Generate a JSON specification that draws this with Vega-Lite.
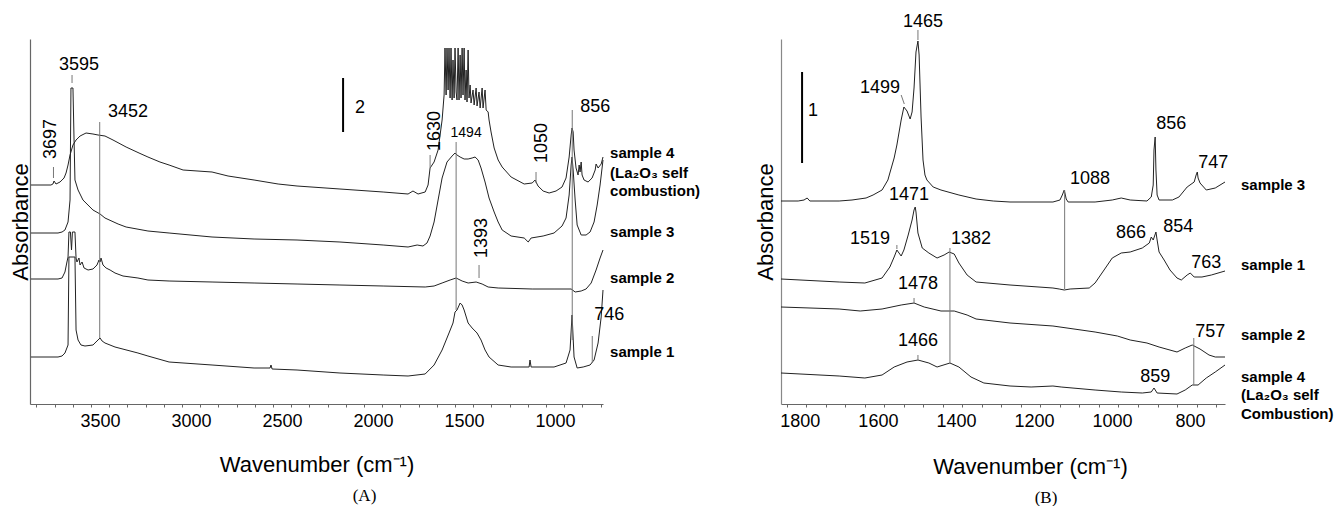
{
"$schema": "https://vega.github.io/schema/vega-lite/v6.json",
"padding": {"left": 9, "top": 13, "right": 0, "bottom": 0},
"bounds": "flush",
"spacing": 178,
"background": "white",
"config": {"view": {"stroke": null}, "axis": {"labelFont": "Liberation Sans", "titleFont": "Liberation Sans", "grid": false, "labelColor": "#000", "titleColor": "#000"}},
"datasets": {
"a_spec": [
{"s":"s4","wn":3830,"h":219},{"s":"s4","wn":3720,"h":219},{"s":"s4","wn":3709,"h":220},{"s":"s4","wn":3703,"h":223},{"s":"s4","wn":3692,"h":220},{"s":"s4","wn":3670,"h":222},{"s":"s4","wn":3648,"h":226},{"s":"s4","wn":3637,"h":231},{"s":"s4","wn":3626,"h":239},{"s":"s4","wn":3615,"h":249},{"s":"s4","wn":3599,"h":259},{"s":"s4","wn":3582,"h":264},{"s":"s4","wn":3560,"h":268},{"s":"s4","wn":3527,"h":271},{"s":"s4","wn":3489,"h":270},{"s":"s4","wn":3461,"h":269},{"s":"s4","wn":3423,"h":268},{"s":"s4","wn":3379,"h":264},{"s":"s4","wn":3307,"h":257},{"s":"s4","wn":3236,"h":251},{"s":"s4","wn":3187,"h":247},{"s":"s4","wn":3121,"h":242},{"s":"s4","wn":3071,"h":239},{"s":"s4","wn":2994,"h":234},{"s":"s4","wn":2835,"h":232},{"s":"s4","wn":2747,"h":228},{"s":"s4","wn":2604,"h":224},{"s":"s4","wn":2472,"h":220},{"s":"s4","wn":2368,"h":218},{"s":"s4","wn":2132,"h":215},{"s":"s4","wn":1895,"h":212},{"s":"s4","wn":1758,"h":210},{"s":"s4","wn":1731,"h":213},{"s":"s4","wn":1703,"h":210},{"s":"s4","wn":1664,"h":212},{"s":"s4","wn":1648,"h":219},{"s":"s4","wn":1637,"h":236},{"s":"s4","wn":1615,"h":242},{"s":"s4","wn":1593,"h":254},{"s":"s4","wn":1571,"h":284},{"s":"s4","wn":1560,"h":309},{"s":"s4","wn":1555,"h":356},{"s":"s4","wn":1549,"h":309},{"s":"s4","wn":1544,"h":356},{"s":"s4","wn":1538,"h":314},{"s":"s4","wn":1533,"h":356},{"s":"s4","wn":1527,"h":306},{"s":"s4","wn":1522,"h":356},{"s":"s4","wn":1516,"h":304},{"s":"s4","wn":1511,"h":344},{"s":"s4","wn":1505,"h":306},{"s":"s4","wn":1500,"h":356},{"s":"s4","wn":1494,"h":312},{"s":"s4","wn":1489,"h":304},{"s":"s4","wn":1483,"h":356},{"s":"s4","wn":1478,"h":304},{"s":"s4","wn":1472,"h":349},{"s":"s4","wn":1467,"h":306},{"s":"s4","wn":1461,"h":356},{"s":"s4","wn":1456,"h":309},{"s":"s4","wn":1450,"h":356},{"s":"s4","wn":1445,"h":304},{"s":"s4","wn":1439,"h":334},{"s":"s4","wn":1434,"h":302},{"s":"s4","wn":1428,"h":354},{"s":"s4","wn":1423,"h":306},{"s":"s4","wn":1417,"h":319},{"s":"s4","wn":1412,"h":301},{"s":"s4","wn":1401,"h":314},{"s":"s4","wn":1395,"h":299},{"s":"s4","wn":1384,"h":316},{"s":"s4","wn":1379,"h":298},{"s":"s4","wn":1368,"h":312},{"s":"s4","wn":1362,"h":296},{"s":"s4","wn":1351,"h":316},{"s":"s4","wn":1346,"h":296},{"s":"s4","wn":1335,"h":314},{"s":"s4","wn":1329,"h":294},{"s":"s4","wn":1318,"h":292},{"s":"s4","wn":1313,"h":284},{"s":"s4","wn":1302,"h":272},{"s":"s4","wn":1285,"h":256},{"s":"s4","wn":1263,"h":244},{"s":"s4","wn":1241,"h":237},{"s":"s4","wn":1192,"h":227},{"s":"s4","wn":1120,"h":220},{"s":"s4","wn":1076,"h":221},{"s":"s4","wn":1060,"h":224},{"s":"s4","wn":1044,"h":218},{"s":"s4","wn":1016,"h":213},{"s":"s4","wn":983,"h":211},{"s":"s4","wn":945,"h":213},{"s":"s4","wn":912,"h":217},{"s":"s4","wn":890,"h":226},{"s":"s4","wn":873,"h":247},{"s":"s4","wn":862,"h":269},{"s":"s4","wn":857,"h":276},{"s":"s4","wn":851,"h":272},{"s":"s4","wn":846,"h":254},{"s":"s4","wn":835,"h":236},{"s":"s4","wn":824,"h":229},{"s":"s4","wn":818,"h":239},{"s":"s4","wn":813,"h":232},{"s":"s4","wn":807,"h":242},{"s":"s4","wn":802,"h":229},{"s":"s4","wn":791,"h":224},{"s":"s4","wn":769,"h":222},{"s":"s4","wn":747,"h":226},{"s":"s4","wn":730,"h":234},{"s":"s4","wn":725,"h":240},{"s":"s4","wn":714,"h":236},{"s":"s4","wn":697,"h":240},{"s":"s4","wn":687,"h":247},
{"s":"s3","wn":3830,"h":171},{"s":"s3","wn":3681,"h":171},{"s":"s3","wn":3659,"h":172},{"s":"s3","wn":3643,"h":174},{"s":"s3","wn":3626,"h":182},{"s":"s3","wn":3615,"h":204},{"s":"s3","wn":3610,"h":316},{"s":"s3","wn":3599,"h":316},{"s":"s3","wn":3593,"h":264},{"s":"s3","wn":3588,"h":224},{"s":"s3","wn":3571,"h":214},{"s":"s3","wn":3544,"h":204},{"s":"s3","wn":3489,"h":194},{"s":"s3","wn":3450,"h":190},{"s":"s3","wn":3423,"h":186},{"s":"s3","wn":3351,"h":180},{"s":"s3","wn":3307,"h":177},{"s":"s3","wn":3187,"h":173},{"s":"s3","wn":3071,"h":171},{"s":"s3","wn":2835,"h":167},{"s":"s3","wn":2604,"h":165},{"s":"s3","wn":2368,"h":164},{"s":"s3","wn":2132,"h":162},{"s":"s3","wn":1895,"h":159},{"s":"s3","wn":1758,"h":157},{"s":"s3","wn":1708,"h":159},{"s":"s3","wn":1676,"h":158},{"s":"s3","wn":1654,"h":161},{"s":"s3","wn":1637,"h":168},{"s":"s3","wn":1615,"h":182},{"s":"s3","wn":1593,"h":204},{"s":"s3","wn":1571,"h":226},{"s":"s3","wn":1544,"h":242},{"s":"s3","wn":1516,"h":248},{"s":"s3","wn":1500,"h":251},{"s":"s3","wn":1489,"h":249},{"s":"s3","wn":1472,"h":247},{"s":"s3","wn":1450,"h":245},{"s":"s3","wn":1428,"h":245},{"s":"s3","wn":1406,"h":246},{"s":"s3","wn":1390,"h":247},{"s":"s3","wn":1373,"h":244},{"s":"s3","wn":1357,"h":236},{"s":"s3","wn":1335,"h":222},{"s":"s3","wn":1313,"h":206},{"s":"s3","wn":1285,"h":192},{"s":"s3","wn":1263,"h":182},{"s":"s3","wn":1241,"h":174},{"s":"s3","wn":1192,"h":168},{"s":"s3","wn":1120,"h":166},{"s":"s3","wn":1098,"h":162},{"s":"s3","wn":1082,"h":166},{"s":"s3","wn":1016,"h":168},{"s":"s3","wn":956,"h":171},{"s":"s3","wn":912,"h":178},{"s":"s3","wn":890,"h":186},{"s":"s3","wn":873,"h":209},{"s":"s3","wn":862,"h":239},{"s":"s3","wn":857,"h":247},{"s":"s3","wn":851,"h":234},{"s":"s3","wn":840,"h":204},{"s":"s3","wn":829,"h":179},{"s":"s3","wn":807,"h":169},{"s":"s3","wn":780,"h":169},{"s":"s3","wn":758,"h":172},{"s":"s3","wn":736,"h":182},{"s":"s3","wn":719,"h":199},{"s":"s3","wn":703,"h":219},{"s":"s3","wn":687,"h":244},
{"s":"s2","wn":3830,"h":125},{"s":"s2","wn":3681,"h":125},{"s":"s2","wn":3659,"h":126},{"s":"s2","wn":3643,"h":132},{"s":"s2","wn":3632,"h":142},{"s":"s2","wn":3626,"h":147},{"s":"s2","wn":3621,"h":172},{"s":"s2","wn":3613,"h":172},{"s":"s2","wn":3607,"h":154},{"s":"s2","wn":3602,"h":172},{"s":"s2","wn":3588,"h":172},{"s":"s2","wn":3582,"h":146},{"s":"s2","wn":3577,"h":142},{"s":"s2","wn":3566,"h":146},{"s":"s2","wn":3560,"h":139},{"s":"s2","wn":3549,"h":142},{"s":"s2","wn":3538,"h":136},{"s":"s2","wn":3516,"h":134},{"s":"s2","wn":3489,"h":135},{"s":"s2","wn":3467,"h":139},{"s":"s2","wn":3456,"h":144},{"s":"s2","wn":3450,"h":142},{"s":"s2","wn":3445,"h":146},{"s":"s2","wn":3434,"h":139},{"s":"s2","wn":3417,"h":136},{"s":"s2","wn":3395,"h":134},{"s":"s2","wn":3368,"h":131},{"s":"s2","wn":3324,"h":128},{"s":"s2","wn":3242,"h":126},{"s":"s2","wn":3187,"h":124},{"s":"s2","wn":3071,"h":123},{"s":"s2","wn":2835,"h":122},{"s":"s2","wn":2604,"h":121},{"s":"s2","wn":2368,"h":120},{"s":"s2","wn":2132,"h":119},{"s":"s2","wn":1895,"h":118},{"s":"s2","wn":1664,"h":117},{"s":"s2","wn":1615,"h":118},{"s":"s2","wn":1571,"h":121},{"s":"s2","wn":1527,"h":124},{"s":"s2","wn":1494,"h":126},{"s":"s2","wn":1461,"h":123},{"s":"s2","wn":1428,"h":121},{"s":"s2","wn":1384,"h":122},{"s":"s2","wn":1351,"h":120},{"s":"s2","wn":1318,"h":117},{"s":"s2","wn":1263,"h":116},{"s":"s2","wn":1076,"h":115},{"s":"s2","wn":956,"h":115},{"s":"s2","wn":862,"h":115},{"s":"s2","wn":840,"h":112},{"s":"s2","wn":807,"h":113},{"s":"s2","wn":780,"h":115},{"s":"s2","wn":752,"h":121},{"s":"s2","wn":725,"h":134},{"s":"s2","wn":703,"h":146},{"s":"s2","wn":687,"h":154},
{"s":"s1","wn":3830,"h":47},{"s":"s1","wn":3681,"h":47},{"s":"s1","wn":3659,"h":48},{"s":"s1","wn":3643,"h":51},{"s":"s1","wn":3626,"h":59},{"s":"s1","wn":3621,"h":147},{"s":"s1","wn":3588,"h":147},{"s":"s1","wn":3582,"h":74},{"s":"s1","wn":3571,"h":64},{"s":"s1","wn":3555,"h":59},{"s":"s1","wn":3533,"h":58},{"s":"s1","wn":3489,"h":59},{"s":"s1","wn":3467,"h":63},{"s":"s1","wn":3450,"h":66},{"s":"s1","wn":3439,"h":63},{"s":"s1","wn":3423,"h":61},{"s":"s1","wn":3368,"h":57},{"s":"s1","wn":3242,"h":51},{"s":"s1","wn":3187,"h":48},{"s":"s1","wn":3071,"h":42},{"s":"s1","wn":2835,"h":39},{"s":"s1","wn":2604,"h":36},{"s":"s1","wn":2516,"h":36},{"s":"s1","wn":2511,"h":39},{"s":"s1","wn":2505,"h":35},{"s":"s1","wn":2368,"h":34},{"s":"s1","wn":2132,"h":31},{"s":"s1","wn":1895,"h":29},{"s":"s1","wn":1758,"h":28},{"s":"s1","wn":1664,"h":30},{"s":"s1","wn":1615,"h":39},{"s":"s1","wn":1571,"h":54},{"s":"s1","wn":1533,"h":71},{"s":"s1","wn":1511,"h":81},{"s":"s1","wn":1500,"h":92},{"s":"s1","wn":1489,"h":94},{"s":"s1","wn":1472,"h":101},{"s":"s1","wn":1461,"h":99},{"s":"s1","wn":1450,"h":94},{"s":"s1","wn":1428,"h":81},{"s":"s1","wn":1406,"h":76},{"s":"s1","wn":1379,"h":71},{"s":"s1","wn":1357,"h":64},{"s":"s1","wn":1335,"h":54},{"s":"s1","wn":1313,"h":47},{"s":"s1","wn":1263,"h":39},{"s":"s1","wn":1192,"h":37},{"s":"s1","wn":1093,"h":37},{"s":"s1","wn":1088,"h":44},{"s":"s1","wn":1082,"h":37},{"s":"s1","wn":956,"h":37},{"s":"s1","wn":890,"h":41},{"s":"s1","wn":868,"h":54},{"s":"s1","wn":857,"h":89},{"s":"s1","wn":846,"h":47},{"s":"s1","wn":829,"h":36},{"s":"s1","wn":796,"h":37},{"s":"s1","wn":758,"h":39},{"s":"s1","wn":736,"h":44},{"s":"s1","wn":714,"h":61},{"s":"s1","wn":697,"h":87},{"s":"s1","wn":687,"h":114}
],
"a_rule": [
{"wn":3452,"wn2":3452,"h":282,"h2":66},{"wn":1494,"wn2":1494,"h":262,"h2":94},{"wn":856,"wn2":856,"h":294,"h2":64},{"wn":746,"wn2":746,"h":68,"h2":41},{"wn":3604,"wn2":3604,"h":329,"h2":321},{"wn":3706,"wn2":3706,"h":237,"h2":226},{"wn":1637,"wn2":1637,"h":249,"h2":236},{"wn":1055,"wn2":1055,"h":232,"h2":221},{"wn":1368,"wn2":1368,"h":139,"h2":126}
],
"a_bar": [{"wn":2115,"wn2":2115,"h":326,"h2":272}],
"a_txt": [
{"k":"n","t":"3595","wn":3566,"h":339},{"k":"n","t":"3452","wn":3297,"h":292},{"k":"n","t":"856","wn":730,"h":297},{"k":"n","t":"746","wn":653,"h":89},{"k":"n","t":"2","wn":2022,"h":296},
{"k":"sm","t":"1494","wn":1439,"h":271},
{"k":"r","t":"3697","wn":3720,"h":265},{"k":"r","t":"1630","wn":1610,"h":273},{"k":"r","t":"1050","wn":1022,"h":261},{"k":"r","t":"1393","wn":1351,"h":166},
{"k":"sp","t":"sample 4","wn":648,"h":251},{"k":"sp","t":"(La₂O₃ self","wn":648,"h":231},{"k":"sp","t":"combustion)","wn":648,"h":213},{"k":"sp","t":"sample 3","wn":648,"h":172},{"k":"sp","t":"sample 2","wn":648,"h":126},{"k":"sp","t":"sample 1","wn":648,"h":52}
],
"b_spec": [
{"s":"s3","wn":1815,"h":203},{"s":"s3","wn":1771,"h":203},{"s":"s3","wn":1756,"h":204},{"s":"s3","wn":1748,"h":206},{"s":"s3","wn":1741,"h":203},{"s":"s3","wn":1666,"h":203},{"s":"s3","wn":1633,"h":204},{"s":"s3","wn":1597,"h":206},{"s":"s3","wn":1579,"h":209},{"s":"s3","wn":1556,"h":214},{"s":"s3","wn":1541,"h":224},{"s":"s3","wn":1536,"h":231},{"s":"s3","wn":1525,"h":246},{"s":"s3","wn":1518,"h":259},{"s":"s3","wn":1507,"h":284},{"s":"s3","wn":1500,"h":297},{"s":"s3","wn":1492,"h":293},{"s":"s3","wn":1484,"h":285},{"s":"s3","wn":1479,"h":292},{"s":"s3","wn":1474,"h":316},{"s":"s3","wn":1469,"h":352},{"s":"s3","wn":1464,"h":363},{"s":"s3","wn":1461,"h":349},{"s":"s3","wn":1459,"h":324},{"s":"s3","wn":1456,"h":287},{"s":"s3","wn":1451,"h":244},{"s":"s3","wn":1446,"h":229},{"s":"s3","wn":1441,"h":224},{"s":"s3","wn":1425,"h":217},{"s":"s3","wn":1405,"h":214},{"s":"s3","wn":1359,"h":209},{"s":"s3","wn":1315,"h":205},{"s":"s3","wn":1271,"h":203},{"s":"s3","wn":1228,"h":202},{"s":"s3","wn":1118,"h":202},{"s":"s3","wn":1100,"h":204},{"s":"s3","wn":1094,"h":209},{"s":"s3","wn":1089,"h":214},{"s":"s3","wn":1084,"h":205},{"s":"s3","wn":1079,"h":202},{"s":"s3","wn":1010,"h":202},{"s":"s3","wn":966,"h":204},{"s":"s3","wn":943,"h":206},{"s":"s3","wn":920,"h":204},{"s":"s3","wn":877,"h":203},{"s":"s3","wn":866,"h":207},{"s":"s3","wn":861,"h":219},{"s":"s3","wn":859,"h":254},{"s":"s3","wn":856,"h":267},{"s":"s3","wn":854,"h":234},{"s":"s3","wn":851,"h":209},{"s":"s3","wn":846,"h":204},{"s":"s3","wn":812,"h":204},{"s":"s3","wn":795,"h":207},{"s":"s3","wn":774,"h":217},{"s":"s3","wn":756,"h":222},{"s":"s3","wn":751,"h":229},{"s":"s3","wn":748,"h":232},{"s":"s3","wn":746,"h":226},{"s":"s3","wn":741,"h":221},{"s":"s3","wn":725,"h":214},{"s":"s3","wn":702,"h":216},{"s":"s3","wn":677,"h":222},
{"s":"s1","wn":1815,"h":125},{"s":"s1","wn":1666,"h":122},{"s":"s1","wn":1600,"h":121},{"s":"s1","wn":1556,"h":126},{"s":"s1","wn":1536,"h":137},{"s":"s1","wn":1525,"h":147},{"s":"s1","wn":1518,"h":154},{"s":"s1","wn":1507,"h":148},{"s":"s1","wn":1500,"h":154},{"s":"s1","wn":1489,"h":169},{"s":"s1","wn":1479,"h":184},{"s":"s1","wn":1474,"h":194},{"s":"s1","wn":1471,"h":197},{"s":"s1","wn":1469,"h":192},{"s":"s1","wn":1464,"h":171},{"s":"s1","wn":1453,"h":156},{"s":"s1","wn":1436,"h":151},{"s":"s1","wn":1415,"h":146},{"s":"s1","wn":1397,"h":149},{"s":"s1","wn":1384,"h":152},{"s":"s1","wn":1371,"h":150},{"s":"s1","wn":1359,"h":141},{"s":"s1","wn":1338,"h":129},{"s":"s1","wn":1315,"h":122},{"s":"s1","wn":1228,"h":119},{"s":"s1","wn":1118,"h":116},{"s":"s1","wn":1102,"h":115},{"s":"s1","wn":1089,"h":114},{"s":"s1","wn":1074,"h":115},{"s":"s1","wn":1025,"h":116},{"s":"s1","wn":1010,"h":121},{"s":"s1","wn":987,"h":134},{"s":"s1","wn":966,"h":146},{"s":"s1","wn":943,"h":151},{"s":"s1","wn":920,"h":152},{"s":"s1","wn":889,"h":156},{"s":"s1","wn":871,"h":161},{"s":"s1","wn":866,"h":167},{"s":"s1","wn":861,"h":164},{"s":"s1","wn":854,"h":172},{"s":"s1","wn":851,"h":164},{"s":"s1","wn":846,"h":152},{"s":"s1","wn":833,"h":144},{"s":"s1","wn":818,"h":134},{"s":"s1","wn":800,"h":126},{"s":"s1","wn":789,"h":124},{"s":"s1","wn":774,"h":129},{"s":"s1","wn":766,"h":131},{"s":"s1","wn":756,"h":127},{"s":"s1","wn":736,"h":127},{"s":"s1","wn":712,"h":129},{"s":"s1","wn":677,"h":133},
{"s":"s2","wn":1815,"h":97},{"s":"s2","wn":1666,"h":95},{"s":"s2","wn":1612,"h":93},{"s":"s2","wn":1556,"h":95},{"s":"s2","wn":1507,"h":99},{"s":"s2","wn":1474,"h":101},{"s":"s2","wn":1448,"h":97},{"s":"s2","wn":1405,"h":93},{"s":"s2","wn":1371,"h":93},{"s":"s2","wn":1338,"h":89},{"s":"s2","wn":1315,"h":85},{"s":"s2","wn":1228,"h":81},{"s":"s2","wn":1118,"h":78},{"s":"s2","wn":1010,"h":72},{"s":"s2","wn":953,"h":68},{"s":"s2","wn":920,"h":64},{"s":"s2","wn":877,"h":61},{"s":"s2","wn":846,"h":57},{"s":"s2","wn":800,"h":52},{"s":"s2","wn":779,"h":56},{"s":"s2","wn":761,"h":59},{"s":"s2","wn":741,"h":55},{"s":"s2","wn":718,"h":49},{"s":"s2","wn":702,"h":47},{"s":"s2","wn":677,"h":47},
{"s":"s4","wn":1815,"h":31},{"s":"s4","wn":1666,"h":28},{"s":"s4","wn":1600,"h":26},{"s":"s4","wn":1556,"h":29},{"s":"s4","wn":1525,"h":37},{"s":"s4","wn":1492,"h":42},{"s":"s4","wn":1464,"h":44},{"s":"s4","wn":1436,"h":41},{"s":"s4","wn":1415,"h":37},{"s":"s4","wn":1382,"h":41},{"s":"s4","wn":1359,"h":37},{"s":"s4","wn":1328,"h":27},{"s":"s4","wn":1295,"h":21},{"s":"s4","wn":1228,"h":18},{"s":"s4","wn":1174,"h":17},{"s":"s4","wn":1118,"h":18},{"s":"s4","wn":1097,"h":17},{"s":"s4","wn":1010,"h":14},{"s":"s4","wn":943,"h":12},{"s":"s4","wn":889,"h":11},{"s":"s4","wn":866,"h":12},{"s":"s4","wn":859,"h":16},{"s":"s4","wn":851,"h":11},{"s":"s4","wn":800,"h":10},{"s":"s4","wn":779,"h":14},{"s":"s4","wn":761,"h":19},{"s":"s4","wn":746,"h":19},{"s":"s4","wn":725,"h":26},{"s":"s4","wn":702,"h":32},{"s":"s4","wn":677,"h":39}
],
"b_rule": [
{"wn":1088,"wn2":1088,"h":214,"h2":115},{"wn":1382,"wn2":1382,"h":156,"h2":41},{"wn":757,"wn2":757,"h":66,"h2":19},{"wn":1474,"wn2":1474,"h":106,"h2":101},{"wn":1464,"wn2":1464,"h":49,"h2":43},{"wn":1507,"wn2":1499,"h":309,"h2":300},{"wn":1518,"wn2":1518,"h":159,"h2":155},{"wn":1464,"wn2":1464,"h":374,"h2":364}
],
"b_bar": [{"wn":1761,"wn2":1761,"h":332,"h2":241}],
"b_txt": [
{"k":"n","t":"1465","wn":1451,"h":382},{"k":"n","t":"1499","wn":1561,"h":316},{"k":"n","t":"856","wn":815,"h":280},{"k":"n","t":"747","wn":707,"h":241},{"k":"n","t":"1088","wn":1023,"h":225},{"k":"n","t":"1471","wn":1487,"h":209},{"k":"n","t":"1519","wn":1587,"h":165},{"k":"n","t":"1382","wn":1328,"h":165},{"k":"n","t":"866","wn":918,"h":171},{"k":"n","t":"854","wn":797,"h":177},{"k":"n","t":"763","wn":725,"h":141},{"k":"n","t":"1478","wn":1464,"h":120},{"k":"n","t":"757","wn":715,"h":72},{"k":"n","t":"1466","wn":1464,"h":63},{"k":"n","t":"859","wn":856,"h":27},{"k":"n","t":"1","wn":1733,"h":293},
{"k":"sp","t":"sample 3","wn":636,"h":219},{"k":"sp","t":"sample 1","wn":636,"h":139},{"k":"sp","t":"sample 2","wn":636,"h":69},{"k":"sp","t":"sample 4","wn":636,"h":27},{"k":"sp","t":"(La₂O₃ self","wn":636,"h":9},{"k":"sp","t":"Combustion)","wn":636,"h":-10}
]
},
"hconcat": [
{
"width": 573, "height": 365,
"title": {"text": "(A)", "orient": "bottom", "frame": "group", "anchor": "middle", "font": "Liberation Serif", "fontSize": 17, "fontWeight": "normal", "color": "#000", "dx": 48, "offset": 13},
"encoding": {
  "x": {"field": "wn", "type": "quantitative", "scale": {"domain": [687, 3835], "reverse": true, "nice": false, "zero": false},
   "axis": {"title": "Wavenumber (cm⁻¹)", "values": [700,800,900,1000,1100,1200,1300,1400,1500,1600,1700,1800,1900,2000,2100,2200,2300,2400,2500,2600,2700,2800,2900,3000,3100,3200,3300,3400,3500,3600,3700,3800], "format": "d", "labelExpr": "datum.value % 500 === 0 ? datum.label : ''", "labelOffset": 9, "tickSize": 3, "labelPadding": 5, "labelFontSize": 18, "titleFontSize": 22, "titleFontWeight": "normal", "titlePadding": 24, "domainColor": "#666", "tickColor": "#666", "domainWidth": 1.2, "labelOverlap": false, "labelFlush": false}},
  "y": {"field": "h", "type": "quantitative", "scale": {"domain": [0, 365], "nice": false, "zero": false},
   "axis": {"title": "Absorbance", "labels": false, "ticks": false, "titleFontSize": 22, "titleFontWeight": "normal", "titlePadding": -2, "domainColor": "#666", "domainWidth": 1.2}}
},
"layer": [
{"data": {"name": "a_spec"}, "mark": {"type": "line", "color": "#222", "strokeWidth": 1}, "encoding": {"detail": {"field": "s"}}},
{"data": {"name": "a_rule"}, "mark": {"type": "rule", "color": "#777", "strokeWidth": 1}, "encoding": {"x2": {"field": "wn2"}, "y2": {"field": "h2"}}},
{"data": {"name": "a_bar"}, "mark": {"type": "rule", "color": "#000", "strokeWidth": 2}, "encoding": {"x2": {"field": "wn2"}, "y2": {"field": "h2"}}},
{"data": {"name": "a_txt"}, "transform": [{"filter": "datum.k == 'n'"}], "mark": {"type": "text", "font": "Liberation Sans", "fontSize": 18, "color": "#000", "align": "center", "baseline": "middle"}, "encoding": {"text": {"field": "t"}}},
{"data": {"name": "a_txt"}, "transform": [{"filter": "datum.k == 'sm'"}], "mark": {"type": "text", "font": "Liberation Sans", "fontSize": 14, "color": "#000", "align": "center", "baseline": "middle"}, "encoding": {"text": {"field": "t"}}},
{"data": {"name": "a_txt"}, "transform": [{"filter": "datum.k == 'r'"}], "mark": {"type": "text", "font": "Liberation Sans", "fontSize": 18, "color": "#000", "align": "center", "baseline": "middle", "angle": 270}, "encoding": {"text": {"field": "t"}}},
{"data": {"name": "a_txt"}, "transform": [{"filter": "datum.k == 'sp'"}], "mark": {"type": "text", "font": "Liberation Sans", "fontSize": 15, "fontWeight": "bold", "color": "#000", "align": "left", "baseline": "middle"}, "encoding": {"text": {"field": "t"}}}
]
},
{
"width": 444, "height": 365,
"title": {"text": "(B)", "orient": "bottom", "frame": "group", "anchor": "middle", "font": "Liberation Serif", "fontSize": 17, "fontWeight": "normal", "color": "#000", "dx": 43, "offset": 13},
"encoding": {
  "x": {"field": "wn", "type": "quantitative", "scale": {"domain": [677, 1815], "reverse": true, "nice": false, "zero": false},
   "axis": {"title": "Wavenumber (cm⁻¹)", "values": [700,750,800,850,900,950,1000,1050,1100,1150,1200,1250,1300,1350,1400,1450,1500,1550,1600,1650,1700,1750,1800], "format": "d", "labelExpr": "datum.value % 200 === 0 ? datum.label : ''", "labelOffset": 13, "tickSize": 3, "labelPadding": 5, "labelFontSize": 18, "titleFontSize": 22, "titleFontWeight": "normal", "titlePadding": 24, "titleX": 249, "titleY": 52, "domainColor": "#666", "tickColor": "#666", "domainWidth": 1.2, "labelOverlap": false, "labelFlush": false}},
  "y": {"field": "h", "type": "quantitative", "scale": {"domain": [0, 365], "nice": false, "zero": false},
   "axis": {"title": "Absorbance", "labels": false, "ticks": false, "titleFontSize": 22, "titleFontWeight": "normal", "titlePadding": 4, "domainColor": "#888", "domainWidth": 1.2}}
},
"layer": [
{"data": {"name": "b_spec"}, "mark": {"type": "line", "color": "#222", "strokeWidth": 1}, "encoding": {"detail": {"field": "s"}}},
{"data": {"name": "b_rule"}, "mark": {"type": "rule", "color": "#777", "strokeWidth": 1}, "encoding": {"x2": {"field": "wn2"}, "y2": {"field": "h2"}}},
{"data": {"name": "b_bar"}, "mark": {"type": "rule", "color": "#000", "strokeWidth": 2}, "encoding": {"x2": {"field": "wn2"}, "y2": {"field": "h2"}}},
{"data": {"name": "b_txt"}, "transform": [{"filter": "datum.k == 'n'"}], "mark": {"type": "text", "font": "Liberation Sans", "fontSize": 18, "color": "#000", "align": "center", "baseline": "middle"}, "encoding": {"text": {"field": "t"}}},
{"data": {"name": "b_txt"}, "transform": [{"filter": "datum.k == 'sp'"}], "mark": {"type": "text", "font": "Liberation Sans", "fontSize": 15, "fontWeight": "bold", "color": "#000", "align": "left", "baseline": "middle"}, "encoding": {"text": {"field": "t"}}}
]
}
]
}
